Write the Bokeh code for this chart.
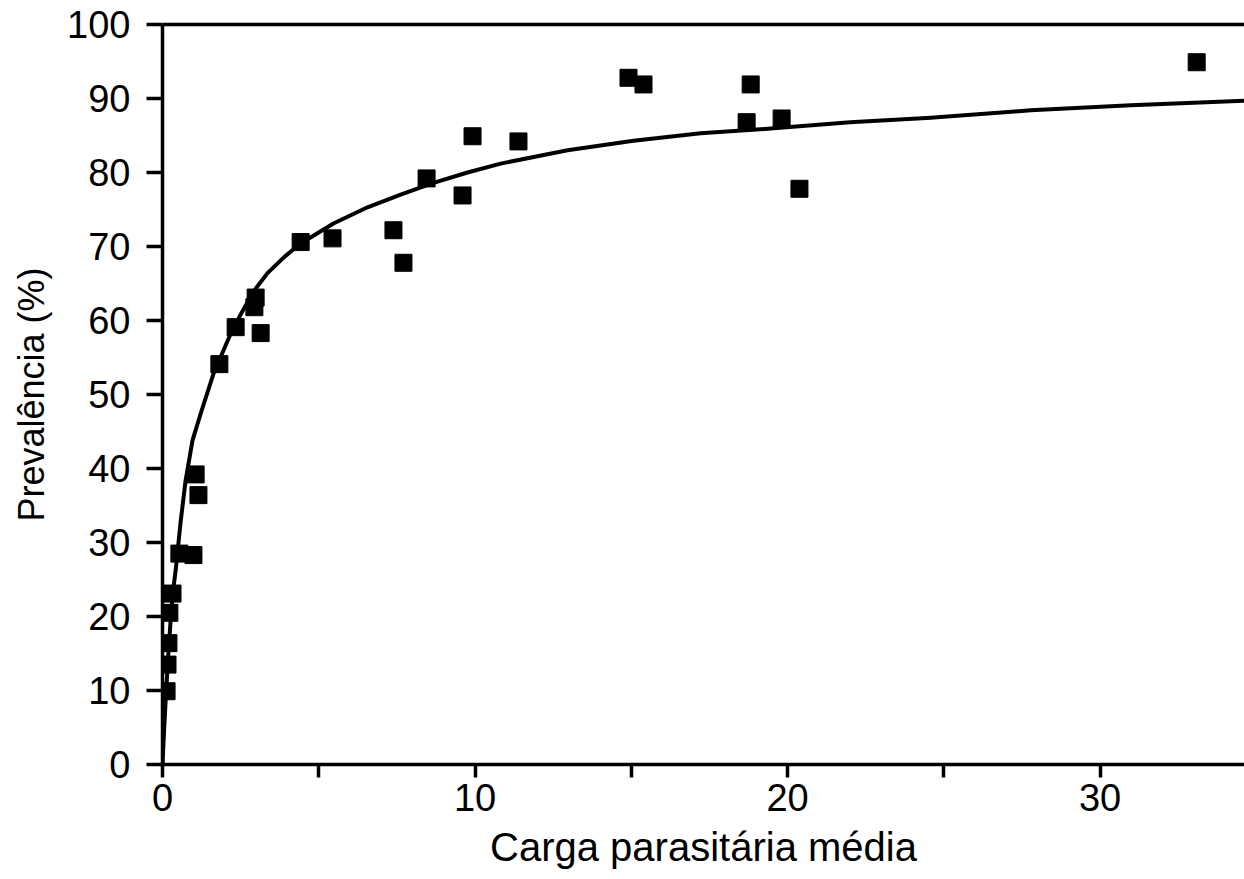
from bokeh.plotting import figure
from bokeh.models import LinearAxis, FixedTicker, Range1d
from bokeh.embed import file_html
from bokeh.resources import INLINE

# Observed points (mean parasite load, prevalence %)
carga = [0.13, 0.16, 0.19, 0.22, 0.32, 0.54, 0.99, 1.06, 1.15, 1.82, 2.34, 2.94,
         2.98, 3.14, 4.42, 5.44, 7.39, 7.71, 8.45, 9.6, 9.92, 11.39, 14.91, 15.39,
         18.69, 18.82, 19.81, 20.38, 33.09]
prevalencia = [9.9, 13.5, 16.4, 20.5, 23.1, 28.5, 28.3, 39.2, 36.4, 54.1, 59.1, 61.8,
               63.1, 58.3, 70.6, 71.1, 72.2, 67.8, 79.2, 76.9, 84.9, 84.2, 92.8, 91.9,
               86.8, 91.9, 87.3, 77.8, 94.9]

# Fitted curve
curva_x = [0.0, 0.05, 0.1, 0.18, 0.26, 0.35, 0.42, 0.58, 0.74, 0.96, 1.22, 1.63, 2.18,
           2.55, 2.91, 3.36, 3.9, 4.42, 5.47, 6.56, 7.62, 8.67, 9.76, 10.82, 12.96,
           15.07, 17.22, 19.36, 22.0, 24.58, 27.78, 30.98, 34.62]
curva_y = [0.0, 4.5, 8.6, 14.5, 19.5, 23.9, 26.2, 32.8, 38.4, 43.8, 47.4, 52.8, 58.2,
           61.2, 63.9, 66.4, 68.6, 70.4, 73.1, 75.3, 77.0, 78.6, 80.0, 81.2, 83.0,
           84.3, 85.3, 85.9, 86.8, 87.4, 88.4, 89.1, 89.7]

x_ticks = [0, 10, 20, 30]
x_minor = [5, 15, 25]
y_ticks = [0, 10, 20, 30, 40, 50, 60, 70, 80, 90, 100]

FONT = "Liberation Sans"

p = figure(width=1244, height=879, output_backend="svg", toolbar_location=None,
           x_range=Range1d(0, 34.62), y_range=Range1d(0, 100),
           min_border_left=162, min_border_top=24, min_border_right=0,
           min_border_bottom=115)
p.background_fill_color = "white"
p.border_fill_color = "white"
p.outline_line_color = None
p.grid.visible = False

p.line(curva_x, curva_y, line_color="black", line_width=4, line_join="round")
p.scatter(carga, prevalencia, marker="square", size=17, fill_color="black",
          line_color="black")

for ax in (p.xaxis[0], p.yaxis[0]):
    ax.axis_line_width = 3.5
    ax.axis_line_color = "black"
    ax.major_tick_line_width = 3.5
    ax.minor_tick_line_width = 3.5
    ax.major_tick_line_color = "black"
    ax.minor_tick_line_color = "black"
    ax.major_tick_in = 0
    ax.minor_tick_in = 0
    ax.major_label_text_font = FONT
    ax.major_label_text_font_size = "38px"
    ax.major_label_text_color = "black"
    ax.axis_label_text_font = FONT
    ax.axis_label_text_font_style = "normal"
    ax.axis_label_text_color = "black"

xa = p.xaxis[0]
xa.ticker = FixedTicker(ticks=x_ticks, minor_ticks=x_minor)
xa.major_tick_out = 13
xa.minor_tick_out = 13
xa.major_label_standoff = 6
xa.axis_label = "Carga parasitária média"
xa.axis_label_text_font_size = "40px"
xa.axis_label_standoff = 11

ya = p.yaxis[0]
ya.ticker = FixedTicker(ticks=y_ticks, minor_ticks=[])
ya.major_tick_out = 16
ya.minor_tick_out = 0
ya.major_label_standoff = 16
ya.axis_label = "Prevalência (%)"
ya.axis_label_text_font_size = "36px"
ya.axis_label_standoff = 12

top = LinearAxis(ticker=FixedTicker(ticks=[], minor_ticks=[]),
                 major_label_text_font_size="0px", major_tick_out=0,
                 minor_tick_out=0, axis_line_width=3.5, axis_line_color="black")
p.add_layout(top, "above")

open("out.html", "w").write(file_html(p, INLINE))
